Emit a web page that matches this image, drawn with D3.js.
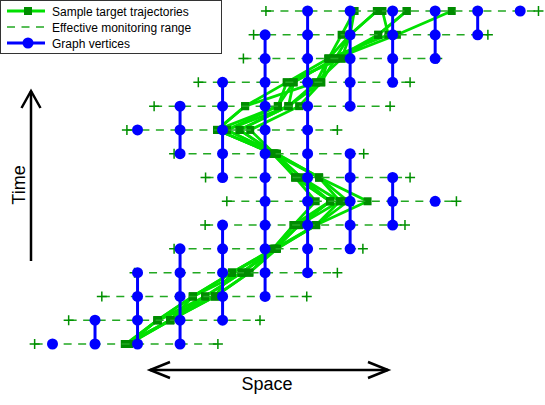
<!DOCTYPE html>
<html>
<head>
<meta charset="utf-8">
<script src="https://cdn.jsdelivr.net/npm/d3@7"></script>
<style>
  body { margin: 0; background: #fff; }
  text { font-family: "Liberation Sans", Arial, sans-serif; fill: #000; }
</style>
</head>
<body>
<svg id="chart" width="545" height="405"></svg>
<script>
// Rows are time steps, bottom (0) to top (14). Space is in grid-column units.
const rangeLo = [-0.42, 0.38, 1.16, 1.93, 2.86, 3.59, 4.10, 3.60, 2.86, 1.75, 2.39, 3.43, 4.49, 4.73, 5.02];
const rangeHi = [3.89, 4.88, 5.98, 6.70, 7.30, 8.29, 9.50, 8.41, 7.32, 6.70, 7.94, 8.41, 9.05, 10.24, 11.43];

// first and last grid column holding a vertex in each row
const vertexFirst = [0, 1, 2, 2, 3, 4, 5, 4, 3, 2, 3, 4, 5, 5, 6];
const vertexLast  = [3, 4, 5, 6, 7, 8, 9, 8, 7, 6, 7, 8, 9, 10, 11];

// sample target trajectories, one position per row
const trajectories = [
  [1.72, 2.47, 3.30, 4.22, 5.20, 5.67, 6.19, 5.71, 5.20, 3.87, 4.53, 5.51, 6.49, 6.80, 7.10],
  [1.76, 2.47, 3.59, 4.45, 5.24, 5.80, 6.53, 5.85, 5.24, 4.10, 5.30, 5.67, 6.65, 7.00, 7.63],
  [1.80, 2.77, 3.82, 4.63, 5.28, 6.20, 7.41, 6.27, 5.26, 4.40, 5.55, 6.20, 6.80, 7.66, 8.33],
  [1.74, 2.77, 3.59, 4.45, 5.22, 5.80, 6.76, 5.85, 5.22, 4.65, 5.80, 6.32, 6.65, 8.10, 9.39],
  [1.78, 2.47, 3.82, 4.63, 5.22, 6.20, 6.95, 6.27, 5.28, 4.10, 5.55, 6.32, 6.49, 7.90, 7.76],
  [1.70, 2.77, 3.30, 4.22, 5.18, 5.67, 6.53, 5.71, 5.18, 3.87, 5.30, 5.51, 6.80, 7.00, 7.10],
  [1.74, 2.47, 3.30, 4.45, 5.22, 5.80, 6.53, 5.71, 5.22, 4.40, 5.55, 5.67, 6.65, 7.66, 8.33],
  [1.78, 2.77, 3.82, 4.22, 5.26, 6.20, 6.76, 6.27, 5.20, 3.87, 4.53, 6.20, 6.49, 7.00, 7.63]
];

const legendLabels = ["Sample target trajectories", "Effective monitoring range", "Graph vertices"];

const svg = d3.select("#chart");

const x = d3.scaleLinear().domain([0, 11]).range([52.5, 520.2]);
const y = d3.scaleLinear().domain([0, 14]).range([344, 11]);

const trajColor = "#00e000";
const squareColor = "#008c00";
const rangeColor = "#22a822";
const plusColor = "#009000";
const blue = "#0000ff";
const dash = "8,6.5";

// build vertices and vertical edges
const vertices = [];
const edges = [];
vertexFirst.forEach((f, r) => {
  for (let c = f; c <= vertexLast[r]; c++) {
    vertices.push({ r, c });
    if (r + 1 < vertexFirst.length && c >= vertexFirst[r + 1] && c <= vertexLast[r + 1]) {
      edges.push({ r, c });
    }
  }
});

// Trajectories
const line = d3.line().x(d => x(d[0])).y(d => y(d[1]));
svg.append("g").selectAll("path")
  .data(trajectories)
  .enter()
  .append("path")
  .attr("d", t => line(t.map((v, r) => [v, r])))
  .attr("fill", "none")
  .attr("stroke", trajColor)
  .attr("stroke-width", 2.8);

svg.append("g").selectAll("rect")
  .data(trajectories.flatMap(t => t.map((v, r) => ({ v, r }))))
  .enter()
  .append("rect")
  .attr("x", d => x(d.v) - 4)
  .attr("y", d => y(d.r) - 4)
  .attr("width", 8)
  .attr("height", 8)
  .attr("fill", squareColor);

// Monitoring ranges
const ranges = rangeLo.map((lo, r) => ({ lo, hi: rangeHi[r], r }));
svg.append("g").selectAll("line")
  .data(ranges)
  .enter()
  .append("line")
  .attr("x1", d => x(d.lo))
  .attr("x2", d => x(d.hi))
  .attr("y1", d => y(d.r))
  .attr("y2", d => y(d.r))
  .attr("stroke", rangeColor)
  .attr("stroke-width", 1.5)
  .attr("stroke-dasharray", dash);

const plusPath = (px, py) => `M${px - 5},${py}H${px + 5}M${px},${py - 5}V${py + 5}`;
svg.append("g").selectAll("path")
  .data(ranges.flatMap(d => [[d.lo, d.r], [d.hi, d.r]]))
  .enter()
  .append("path")
  .attr("d", d => plusPath(x(d[0]), y(d[1])))
  .attr("stroke", plusColor)
  .attr("stroke-width", 1.5)
  .attr("fill", "none");

// Graph
svg.append("g").selectAll("line")
  .data(edges)
  .enter()
  .append("line")
  .attr("x1", d => x(d.c))
  .attr("x2", d => x(d.c))
  .attr("y1", d => y(d.r))
  .attr("y2", d => y(d.r + 1))
  .attr("stroke", blue)
  .attr("stroke-width", 3);

svg.append("g").selectAll("circle")
  .data(vertices)
  .enter()
  .append("circle")
  .attr("cx", d => x(d.c))
  .attr("cy", d => y(d.r))
  .attr("r", 5.5)
  .attr("fill", blue);

// Axis arrows and labels
const arrows = svg.append("g")
  .attr("stroke", "#000")
  .attr("stroke-width", 2.5)
  .attr("fill", "none");
arrows.append("line").attr("x1", 31).attr("x2", 31).attr("y1", 91).attr("y2", 261);
arrows.append("path").attr("d", "M21.5,108L31,91L40.5,108");
arrows.append("line").attr("x1", 150).attr("x2", 388).attr("y1", 370).attr("y2", 370);
arrows.append("path").attr("d", "M170,362L150,370L170,378");
arrows.append("path").attr("d", "M368,362L388,370L368,378");

svg.append("text")
  .attr("transform", "translate(25,185) rotate(-90)")
  .attr("text-anchor", "middle")
  .style("font-size", "18px")
  .text("Time");

svg.append("text")
  .attr("x", 267)
  .attr("y", 390)
  .attr("text-anchor", "middle")
  .style("font-size", "18px")
  .text("Space");

// Legend
const legend = svg.append("g");
legend.append("rect")
  .attr("x", 0.5).attr("y", 0.5)
  .attr("width", 221).attr("height", 53)
  .attr("fill", "#fff")
  .attr("stroke", "#333")
  .attr("stroke-width", 1);

const legendY = [11, 27, 43];
legendLabels.forEach((label, i) => {
  const ly = legendY[i];
  const item = legend.append("g");
  if (i === 0) {
    item.append("line").attr("x1", 7).attr("x2", 45).attr("y1", ly).attr("y2", ly)
      .attr("stroke", trajColor).attr("stroke-width", 2.8);
    item.append("rect").attr("x", 24).attr("y", ly - 4).attr("width", 8).attr("height", 8)
      .attr("fill", squareColor);
  } else if (i === 1) {
    item.append("line").attr("x1", 7).attr("x2", 45).attr("y1", ly).attr("y2", ly)
      .attr("stroke", rangeColor).attr("stroke-width", 1.5).attr("stroke-dasharray", dash);
  } else {
    item.append("line").attr("x1", 7).attr("x2", 45).attr("y1", ly).attr("y2", ly)
      .attr("stroke", blue).attr("stroke-width", 3);
    item.append("circle").attr("cx", 28).attr("cy", ly).attr("r", 5.5).attr("fill", blue);
  }
  item.append("text")
    .attr("x", 52)
    .attr("y", ly + 4.5)
    .style("font-size", "12px")
    .text(label);
});
</script>
</body>
</html>
